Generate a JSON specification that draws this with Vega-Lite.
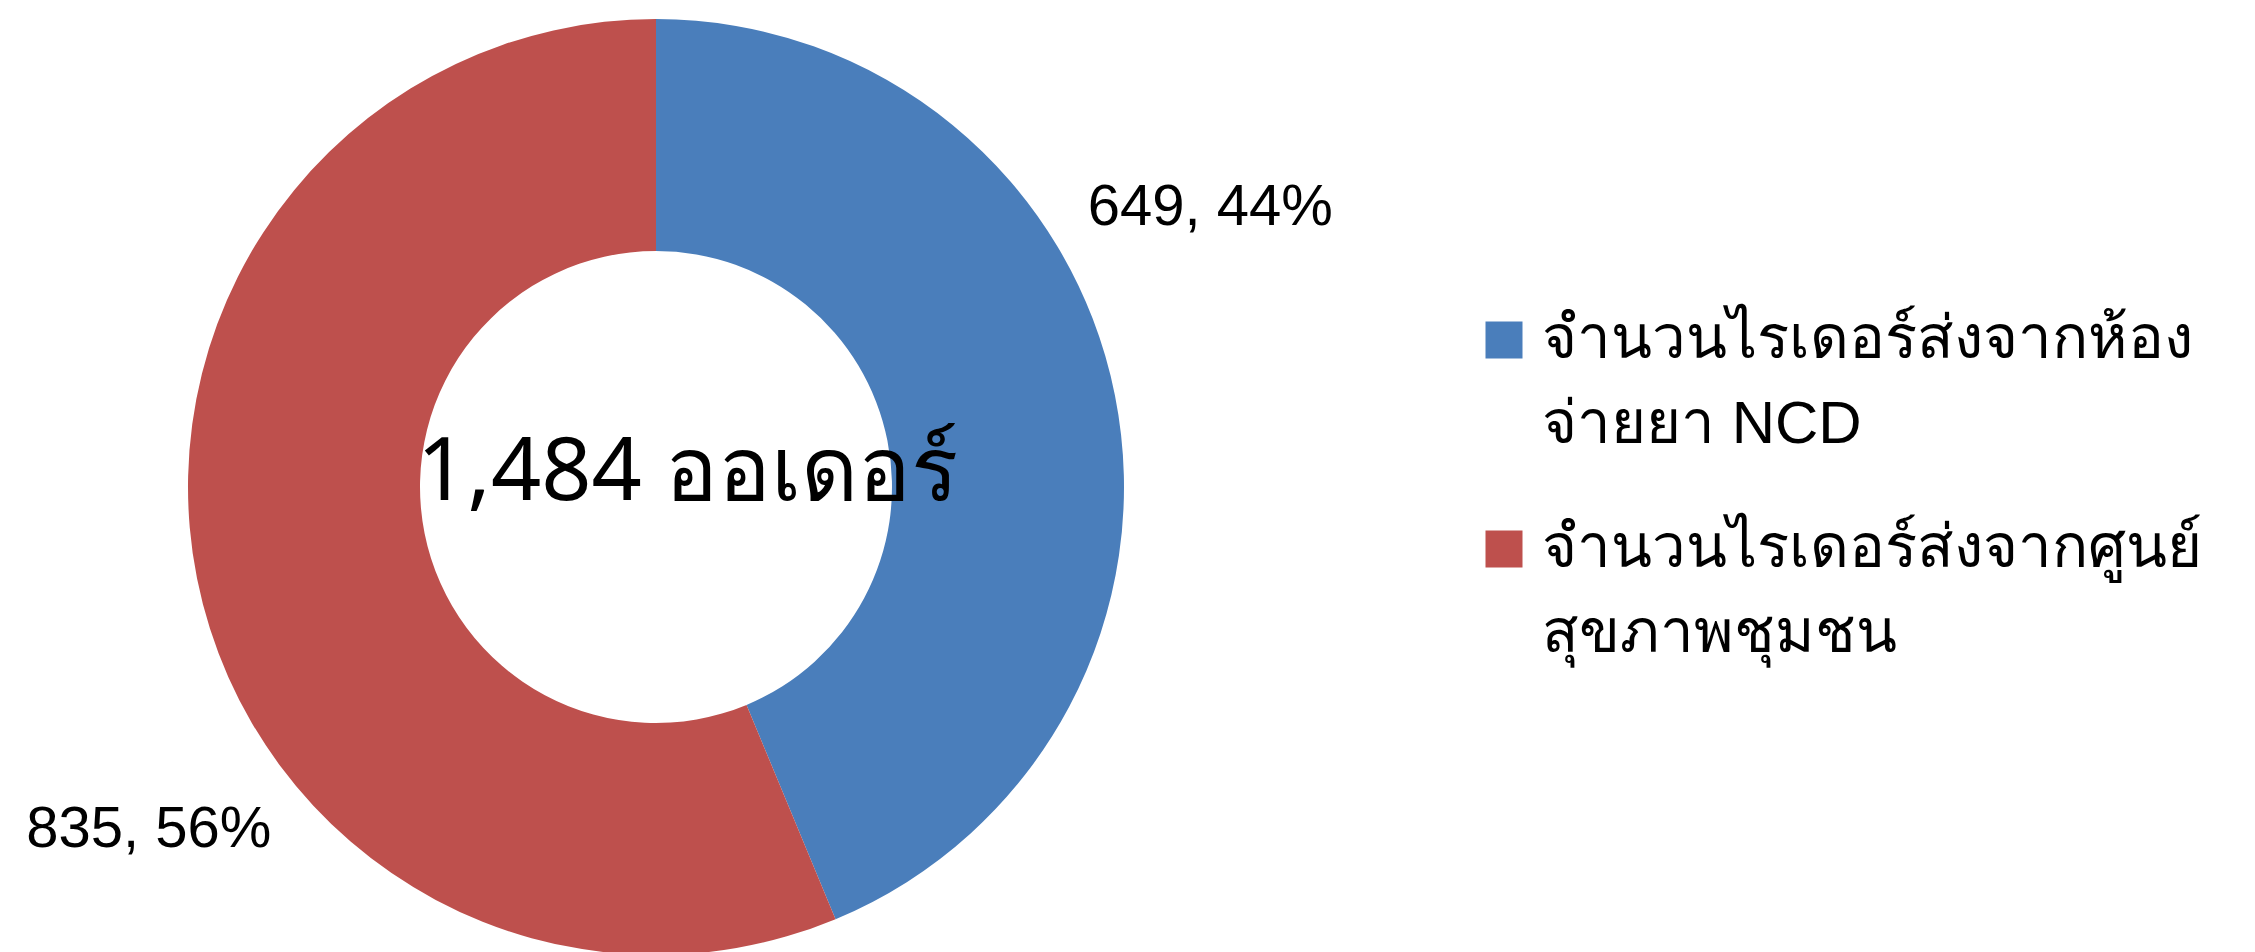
{
  "$schema": "https://vega.github.io/schema/vega-lite/v6.json",
  "width": 1312,
  "height": 930,
  "autosize": "none",
  "padding": {"left": 0, "top": 22, "right": 943, "bottom": 0},
  "background": "white",
  "config": {"view": {"stroke": null}, "font": "Liberation Sans"},
  "data": {
    "values": [
      {"category": "จำนวนไรเดอร์ส่งจากห้องจ่ายยา NCD", "orders": 649, "label": "649, 44%", "rank": 1},
      {"category": "จำนวนไรเดอร์ส่งจากศูนย์สุขภาพชุมชน", "orders": 835, "label": "835, 56%", "rank": 2}
    ]
  },
  "layer": [
    {
      "mark": {"type": "arc", "outerRadius": 468, "innerRadius": 236},
      "encoding": {
        "theta": {"field": "orders", "type": "quantitative", "stack": true},
        "order": {"field": "rank", "type": "quantitative"},
        "color": {
          "field": "category",
          "type": "nominal",
          "scale": {
            "domain": ["จำนวนไรเดอร์ส่งจากห้องจ่ายยา NCD", "จำนวนไรเดอร์ส่งจากศูนย์สุขภาพชุมชน"],
            "range": ["#4A7EBB", "#BE504D"]
          },
          "legend": {
            "title": null,
            "orient": "none",
            "legendX": 1474,
            "legendY": 288,
            "padding": 0,
            "symbolType": "square",
            "symbolSize": 1369,
            "symbolStrokeWidth": 0,
            "labelFontSize": 60,
            "labelFont": "Liberation Sans",
            "labelColor": "black",
            "labelOffset": 8,
            "labelLimit": 1200,
            "rowPadding": 64,
            "labelExpr": "datum.label === 'จำนวนไรเดอร์ส่งจากห้องจ่ายยา NCD' ? ['จำนวนไรเดอร์ส่งจากห้อง', 'จ่ายยา NCD'] : ['จำนวนไรเดอร์ส่งจากศูนย์', 'สุขภาพชุมชน']",
            "encode": {
              "labels": {"update": {"lineHeight": {"value": 85}}}
            }
          }
        }
      }
    },
    {
      "mark": {"type": "text", "radius": 560, "dx": 5, "dy": -152, "fontSize": 58, "font": "Liberation Sans", "align": "center", "baseline": "alphabetic", "color": "black"},
      "encoding": {
        "theta": {"field": "orders", "type": "quantitative", "stack": true},
        "order": {"field": "rank", "type": "quantitative"},
        "text": {"condition": {"test": "datum.rank === 1", "field": "label", "type": "nominal"}, "value": ""}
      }
    },
    {
      "mark": {"type": "text", "radius": 560, "dx": 42, "dy": 250, "fontSize": 58, "font": "Liberation Sans", "align": "center", "baseline": "alphabetic", "color": "black"},
      "encoding": {
        "theta": {"field": "orders", "type": "quantitative", "stack": true},
        "order": {"field": "rank", "type": "quantitative"},
        "text": {"condition": {"test": "datum.rank === 2", "field": "label", "type": "nominal"}, "value": ""}
      }
    },
    {
      "data": {"values": [{"center": "1,484 ออเดอร์"}]},
      "mark": {"type": "text", "fontSize": 88, "font": "Noto Sans", "align": "left", "baseline": "alphabetic", "dx": -239, "dy": 13, "color": "black"},
      "encoding": {
        "text": {"field": "center", "type": "nominal"}
      }
    }
  ]
}
